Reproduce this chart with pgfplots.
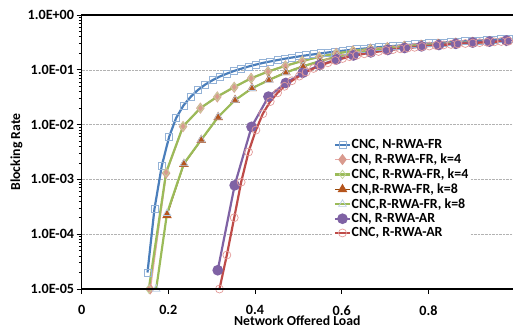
\documentclass[border=0pt]{standalone}
\usepackage{fontspec}
\setmainfont{Carlito}[BoldFont={Carlito Bold}]
\usepackage{pgfplots}
\pgfplotsset{compat=1.18}
\definecolor{cblue}{HTML}{4A7EBB}
\definecolor{cbluem}{HTML}{95B3D7}
\definecolor{cpink}{HTML}{E6A8A6}
\definecolor{cpinkm}{HTML}{D99A8E}
\definecolor{cgreen}{HTML}{9BBB59}
\definecolor{cgreenm}{HTML}{C3D69B}
\definecolor{cbrown}{HTML}{984807}
\definecolor{cbrownm}{HTML}{B5541C}
\definecolor{ctri}{HTML}{B9CDE5}
\definecolor{cpurple}{HTML}{7F62A4}
\definecolor{cred}{HTML}{BE4B48}
\definecolor{credm}{HTML}{E39A98}
\begin{document}
\begin{tikzpicture}
\begin{axis}[
  scale only axis, width=431.4bp, height=274bp,
  xmin=0, xmax=0.995, ymode=log, ymin=1e-5, ymax=1,
  xtick={0,0.2,0.4,0.6,0.8}, xticklabels={0,0.2,0.4,0.6,0.8},
  ytick={1e-5,1e-4,1e-3,1e-2,1e-1,1}, minor ytick={},
  yticklabels={1.0E-05,1.0E-04,1.0E-03,1.0E-02,1.0E-01,1.0E+00},
  xtick pos=left, ytick pos=left, tick align=outside,
  major tick length=5bp, tick style={black, line width=0.8pt},
  ymajorgrids, major grid style={black!30, densely dotted, line width=0.6pt},
  axis line style={draw=none},
  tick label style={font=\fontsize{14.2}{16}\selectfont\bfseries},
  yticklabel style={xshift=1bp},
  xticklabel style={yshift=-8bp},
  label style={font=\fontsize{13.8}{16}\selectfont\bfseries},
  ylabel={Blocking Rate}, xlabel={Network Offered Load},
  ylabel style={at={(axis description cs:-0.151,0.5)}, anchor=center, rotate=0},
  xlabel style={at={(axis description cs:0.5,0)}, anchor=north, yshift=-26.5bp, inner sep=0pt},
  legend style={at={(rel axis cs:0.583,0.553)}, anchor=north west, draw=none, fill=white,
    font=\fontsize{14}{16}\selectfont\bfseries, row sep=1.6bp, inner sep=1pt,
    nodes={inner xsep=1pt, inner ysep=1pt}},
  legend cell align=left,
  legend image code/.code={\draw[mark repeat=2,mark phase=2,#1] plot coordinates {(0cm,0cm) (0.25cm,0cm) (0.5cm,0cm)};},
  after end axis/.code={
    \draw[black, line width=1.1pt] (rel axis cs:0,0) -- (rel axis cs:1,0);
    \draw[black, line width=1.1pt] (rel axis cs:0,0) -- (rel axis cs:0,1) -- (rel axis cs:1,1);
    \coordinate (BL) at (rel axis cs:0,0);
    \coordinate (TR) at (rel axis cs:1,1);
  },
]
% CNC, N-RWA-FR
\addplot[cblue, line width=2.2pt, mark=square, mark size=3.5bp, mark options={draw=cbluem, fill=none, line width=0.8pt, solid}] coordinates {
(0.152,2.0e-5)(0.168,2.88e-4)(0.185,1.78e-3)(0.202,6.03e-3)(0.218,1.32e-2)(0.235,2.24e-2)
(0.252,3.24e-2)(0.268,4.27e-2)(0.285,5.37e-2)(0.302,6.46e-2)(0.318,7.50e-2)(0.335,8.51e-2)
(0.352,9.55e-2)(0.368,0.1047)(0.385,0.1148)(0.402,0.1245)(0.418,0.1334)(0.435,0.1419)
(0.452,0.1507)(0.468,0.1592)(0.485,0.1675)(0.502,0.1758)(0.518,0.1837)(0.535,0.1914)
(0.552,0.1995)(0.568,0.2070)(0.585,0.2148)(0.602,0.2223)(0.618,0.2296)(0.635,0.2371)
(0.652,0.2443)(0.668,0.2512)(0.685,0.2582)(0.702,0.2649)(0.718,0.2716)(0.735,0.2780)
(0.752,0.2844)(0.768,0.2911)(0.785,0.2972)(0.802,0.3034)(0.818,0.3097)(0.835,0.3155)
(0.852,0.3214)(0.868,0.3273)(0.885,0.3327)(0.902,0.3381)(0.918,0.3436)(0.935,0.3491)
(0.952,0.3548)(0.968,0.3597)(0.985,0.3648)};
\addlegendentry{CNC, N-RWA-FR}
% CN, R-RWA-FR, k=4
\addplot[cpink, line width=1.8pt, mark=diamond*, mark size=4.2bp, mark options={draw=cpinkm, fill=cpinkm, solid}] coordinates {
(0.158,1.0e-5)(0.195,1.3e-3)(0.234,9.2e-3)(0.274,2.0e-2)(0.313,3.2e-2)(0.352,4.8e-2)
(0.391,7.0e-2)(0.430,9.3e-2)(0.470,0.118)(0.509,0.145)(0.548,0.172)(0.587,0.200)
(0.626,0.222)(0.666,0.240)(0.705,0.256)(0.744,0.270)(0.783,0.283)(0.822,0.295)
(0.862,0.307)(0.901,0.318)(0.940,0.328)(0.979,0.338)};
\addlegendentry{CN, R-RWA-FR, k=4}
% CNC, R-RWA-FR, k=4
\addplot[cgreen, line width=2.2pt, mark=diamond, mark size=4.2bp, mark options={draw=cgreenm, fill=none, line width=0.7pt, solid}] coordinates {
(0.155,1.0e-5)(0.195,1.35e-3)(0.234,9.3e-3)(0.274,2.0e-2)(0.313,3.25e-2)(0.352,4.85e-2)
(0.391,7.0e-2)(0.430,9.3e-2)(0.470,0.118)(0.509,0.145)(0.548,0.172)(0.587,0.198)
(0.626,0.221)(0.666,0.239)(0.705,0.255)(0.744,0.269)(0.783,0.282)(0.822,0.294)
(0.862,0.306)(0.901,0.317)(0.940,0.327)(0.979,0.337)};
\addlegendentry{CNC, R-RWA-FR, k=4}
% CN,R-RWA-FR, k=8
\addplot[cbrown, line width=1.2pt, mark=triangle*, mark size=4.4bp, mark options={draw=cbrownm, fill=cbrownm, solid}] coordinates {
(0.197,2.2e-4)(0.236,1.9e-3)(0.276,5.2e-3)(0.315,1.36e-2)(0.354,2.8e-2)(0.393,4.6e-2)
(0.432,6.6e-2)(0.471,9.0e-2)(0.511,0.117)(0.550,0.145)(0.589,0.175)(0.628,0.200)
(0.668,0.222)(0.707,0.242)(0.746,0.260)(0.785,0.276)(0.824,0.290)(0.864,0.303)
(0.903,0.315)(0.942,0.326)(0.981,0.336)};
\addlegendentry{CN,R-RWA-FR, k=8}
% CNC,R-RWA-FR, k=8
\addplot[cgreen, line width=2.2pt, mark=triangle, mark size=4.4bp, mark options={draw=ctri, fill=none, line width=0.7pt, solid}] coordinates {
(0.172,1.0e-5)(0.197,2.4e-4)(0.236,1.95e-3)(0.276,5.3e-3)(0.315,1.38e-2)(0.354,2.8e-2)(0.393,4.6e-2)
(0.432,6.5e-2)(0.471,8.9e-2)(0.511,0.116)(0.550,0.144)(0.589,0.174)(0.628,0.199)
(0.668,0.221)(0.707,0.241)(0.746,0.259)(0.785,0.275)(0.824,0.289)(0.864,0.302)
(0.903,0.314)(0.942,0.325)(0.981,0.335)};
\addlegendentry{CNC,R-RWA-FR, k=8}
% CN, R-RWA-AR
\addplot[cpurple, line width=2.2pt, mark=*, mark size=4.2bp, mark options={draw=cpurple, fill=cpurple, solid}] coordinates {
(0.314,2.2e-5)(0.353,7.8e-4)(0.392,9.1e-3)(0.431,3.24e-2)(0.471,5.75e-2)(0.510,8.8e-2)
(0.549,0.122)(0.588,0.155)(0.627,0.183)(0.667,0.208)(0.706,0.230)(0.745,0.250)
(0.784,0.268)(0.824,0.284)(0.863,0.298)(0.902,0.314)(0.941,0.328)(0.980,0.342)};
\addlegendentry{CN, R-RWA-AR}
% CNC, R-RWA-AR
\addplot[cred, line width=2.2pt, mark=o, mark size=4bp, mark options={draw=credm, fill=none, line width=0.7pt, solid}] coordinates {
(0.318,1.0e-5)(0.335,4.17e-5)(0.352,2.0e-4)(0.368,8.91e-4)(0.385,3.16e-3)(0.402,7.94e-3)
(0.418,1.58e-2)(0.435,2.63e-2)(0.452,3.80e-2)(0.468,5.01e-2)(0.485,6.31e-2)(0.502,7.67e-2)
(0.518,9.12e-2)(0.535,0.1059)(0.552,0.1202)(0.568,0.1343)(0.585,0.1479)(0.602,0.1611)
(0.618,0.1738)(0.635,0.1854)(0.652,0.1963)(0.668,0.2065)(0.685,0.2163)(0.702,0.2254)
(0.718,0.2339)(0.735,0.2421)(0.752,0.2500)(0.768,0.2576)(0.785,0.2649)(0.802,0.2716)
(0.818,0.2780)(0.835,0.2844)(0.852,0.2904)(0.868,0.2965)(0.885,0.3020)(0.902,0.3076)
(0.918,0.3133)(0.935,0.3184)(0.952,0.3236)(0.968,0.3289)(0.985,0.3334)};
\addlegendentry{CNC, R-RWA-AR}
\end{axis}
\pgfresetboundingbox
\path ([xshift=-81.6bp,yshift=-36bp]BL) rectangle ([yshift=15bp]TR);
\end{tikzpicture}
\end{document}
